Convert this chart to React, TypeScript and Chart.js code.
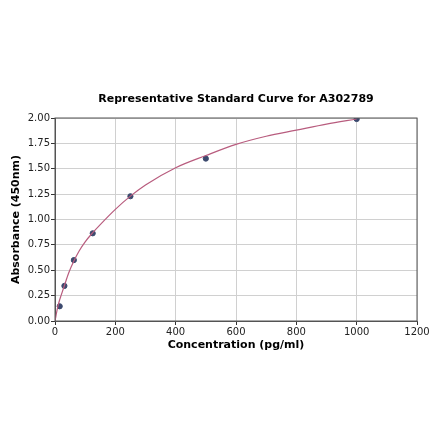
import { useEffect, useRef } from 'react';
import Chart from 'chart.js/auto';

const concentrations = [15.6, 31.25, 62.5, 125, 250, 500, 1000];
const absorbances = [0.145, 0.346, 0.6, 0.864, 1.229, 1.6, 1.99];

// fitted curve
const curveX = [0, 2, 5, 10, 15.6, 20, 31.25, 45, 62.5, 80, 100, 125, 150, 200, 250, 300, 400, 500, 600, 700, 800, 900, 1000];
const curveY = [0, 0.03, 0.08, 0.15, 0.21, 0.25, 0.35, 0.47, 0.59, 0.69, 0.78, 0.87, 0.95, 1.1, 1.23, 1.34, 1.51, 1.63, 1.74, 1.82, 1.88, 1.94, 1.99];

const xTicks = [0, 200, 400, 600, 800, 1000, 1200];
const yTicks = [0, 0.25, 0.5, 0.75, 1, 1.25, 1.5, 1.75, 2];

const TITLE = 'Representative Standard Curve for A302789';
const FONT = '"DejaVu Sans", sans-serif';

const frameAndTitle = {
    id: 'frameAndTitle',
    afterDraw(chart: any) {
        const { ctx, chartArea } = chart;
        ctx.save();
        ctx.strokeStyle = '#555555';
        ctx.lineWidth = 1;
        ctx.strokeRect(chartArea.left, chartArea.top, chartArea.right - chartArea.left, chartArea.bottom - chartArea.top);
        ctx.fillStyle = '#000000';
        ctx.font = `bold 11px ${FONT}`;
        ctx.textAlign = 'center';
        ctx.textBaseline = 'middle';
        ctx.fillText(TITLE, (chartArea.left + chartArea.right) / 2, 99.5);
        ctx.restore();
    }
};

const App = () => {
    const canvas = useRef<HTMLCanvasElement>(null);

    useEffect(() => {
        document.body.style.margin = '0';
        const chart = new Chart(
            // @ts-expect-error
            canvas.current,
            {
                type: 'scatter',
                data: {
                    datasets: [
                        {
                            type: 'line',
                            label: 'fit',
                            data: curveX.map((x, i) => ({ x, y: curveY[i] })),
                            borderColor: '#b85c7e',
                            borderWidth: 1.2,
                            pointRadius: 0,
                            cubicInterpolationMode: 'monotone',
                            fill: false,
                        },
                        {
                            label: 'standards',
                            data: concentrations.map((x, i) => ({ x, y: absorbances[i] })),
                            backgroundColor: '#3c4a6e',
                            borderColor: '#3c4a6e',
                            pointRadius: 2.6,
                        }
                    ]
                },
                options: {
                    animation: false,
                    responsive: false,
                    devicePixelRatio: 1,
                    layout: {
                        padding: { top: 118, right: 23, bottom: 88, left: 0 }
                    },
                    plugins: {
                        legend: { display: false },
                        tooltip: { enabled: false },
                        title: { display: false }
                    },
                    scales: {
                        x: {
                            type: 'linear',
                            min: 0,
                            max: 1200,
                            afterFit: (scale: any) => { scale.height = 32; },
                            afterBuildTicks: (scale: any) => { scale.ticks = xTicks.map(value => ({ value })); },
                            grid: { color: '#d0d0d0', tickColor: '#333333', tickLength: 4 },
                            border: { color: '#555555' },
                            ticks: {
                                color: '#222222',
                                padding: 1,
                                font: { family: FONT, size: 10 },
                                callback: (value: any) => String(value)
                            },
                            title: {
                                display: true,
                                text: 'Concentration (pg/ml)',
                                color: '#000000',
                                font: { family: FONT, size: 11, weight: 'bold' },
                                padding: { top: 0, bottom: 1 }
                            }
                        },
                        y: {
                            type: 'linear',
                            min: 0,
                            max: 2,
                            afterFit: (scale: any) => { scale.width = 55; },
                            afterBuildTicks: (scale: any) => { scale.ticks = yTicks.map(value => ({ value })); },
                            grid: { color: '#d0d0d0', tickColor: '#333333', tickLength: 4 },
                            border: { color: '#555555' },
                            ticks: {
                                color: '#222222',
                                padding: 1,
                                font: { family: FONT, size: 10 },
                                callback: (value: any) => Number(value).toFixed(2)
                            },
                            title: {
                                display: true,
                                text: 'Absorbance (450nm)',
                                color: '#000000',
                                font: { family: FONT, size: 11, weight: 'bold' },
                                padding: { top: 10, bottom: 0 }
                            }
                        }
                    }
                },
                plugins: [frameAndTitle]
            }
        );

        return () => {
            chart.destroy();
        };
    }, []);

    return (
        <div style={{ width: 440, height: 441, background: '#ffffff' }}>
            <canvas ref={canvas} width={440} height={441} role="img" aria-label={TITLE}></canvas>
        </div>
    );
};

export default App;
